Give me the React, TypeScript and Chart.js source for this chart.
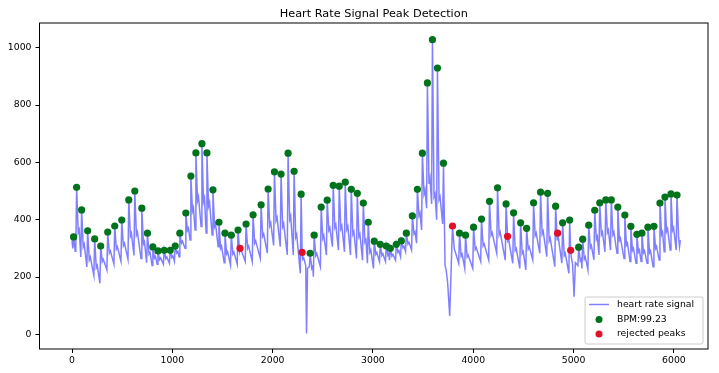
import React, { useEffect, useRef } from "react";
import { Chart, registerables } from "chart.js";

Chart.register(...registerables);

const titleText = "Heart Rate Signal Peak Detection";
const seriesLabels = ["heart rate signal", "BPM:99.23", "rejected peaks"];

const xTicks = [0, 1000, 2000, 3000, 4000, 5000, 6000];
const yTicks = [0, 200, 400, 600, 800, 1000];

// accepted peaks (green)
const peakX = [
  16, 46, 96, 156, 226, 286, 356, 426, 496, 566,
  626, 696, 752, 806, 857, 919, 979, 1029, 1075, 1135,
  1185, 1235, 1295, 1345, 1405, 1465, 1525, 1588, 1655, 1735,
  1805, 1885, 1955, 2018, 2084, 2154, 2214, 2284, 2374, 2414,
  2484, 2544, 2604, 2664, 2724, 2784, 2844, 2904, 2953, 3013,
  3073, 3133, 3173, 3233, 3283, 3333, 3393, 3443, 3493, 3543,
  3593, 3643, 3703, 3863, 3923, 4003, 4082, 4162, 4242, 4327,
  4402, 4472, 4532, 4601, 4671, 4741, 4821, 4891, 4961, 5051,
  5091, 5151, 5211, 5261, 5321, 5376, 5441, 5511, 5571, 5631,
  5681, 5741, 5801, 5861, 5911, 5971, 6031,
];
const peakY = [
  340, 513, 434, 361, 333, 308, 357, 378, 399, 469,
  500, 440, 353, 305, 291, 293, 293, 308, 353, 423,
  552, 633, 665, 633, 504, 391, 353, 346, 364, 385,
  417, 452, 507, 567, 559, 632, 569, 489, 283, 346,
  444, 468, 520, 517, 531, 506, 492, 458, 391, 325,
  314, 308, 300, 314, 326, 353, 413, 506, 632, 877,
  1028, 929, 597, 353, 346, 374, 402, 464, 511, 455,
  424, 389, 370, 459, 496, 492, 447, 389, 399, 304,
  332, 381, 433, 459, 469, 469, 444, 416, 377, 349,
  353, 374, 377, 458, 479, 490, 486,
];
// trough just before each upstroke
const footY = [
  300, 300, 270, 235, 205, 178, 225, 245, 255, 262,
  275, 265, 250, 240, 245, 245, 248, 255, 271, 300,
  329, 364, 376, 354, 347, 306, 250, 242, 245, 255,
  254, 265, 283, 310, 306, 277, 277, 213, 236, 201,
  236, 277, 306, 294, 288, 277, 265, 259, 248, 230,
  254, 254, 259, 259, 271, 289, 294, 318, 364, 440,
  455, 400, 385, 248, 230, 230, 254, 259, 283, 259,
  248, 230, 225, 260, 283, 271, 236, 248, 213, 240,
  230, 225, 260, 277, 288, 294, 283, 265, 254, 248,
  254, 248, 236, 259, 288, 294, 294,
];
// notch after each peak
const notchY = [
  290, 355, 305, 260, 232, 254, 284, 298, 310, 343,
  347, 316, 280, 266, 261, 264, 268, 284, 318, 362,
  430, 466, 463, 447, 375, 300, 281, 280, 292, 300,
  318, 342, 379, 397, 376, 401, 338, 262, 230, 274,
  335, 363, 373, 368, 366, 349, 341, 322, 286, 279,
  275, 276, 273, 286, 302, 315, 351, 414, 490, 525,
  480, 470, 240, 273, 270, 296, 309, 346, 347, 325,
  293, 282, 298, 345, 350, 326, 330, 275, 270, 257,
  262, 302, 332, 348, 355, 348, 328, 311, 293, 287,
  285, 284, 300, 348, 359, 363, 340,
];
// secondary (dicrotic) wave after each notch
const bumpY = [
  null, 365, 315, 270, 240, 262, 292, 306, 318, 353,
  357, 324, 286, 272, 267, 270, 274, 290, 325, 370,
  442, 480, 476, 460, 385, 308, 288, 287, 298, 308,
  326, 350, 389, 408, 386, 413, 348, 266, 238, 282,
  345, 372, 383, 378, 376, 358, 350, 330, 294, 285,
  281, 282, 279, 292, 308, 321, 358, 424, 505, 545,
  490, 480, null, 280, 277, 303, 316, 355, 357, 330,
  300, 289, 305, 354, 360, 336, 340, 283, null, 264,
  270, 310, 341, 357, 364, 357, 336, 318, 300, 294,
  292, 291, 307, 357, 368, 372, null,
];

// rejected peaks (red)
const rejectedX = [1675, 2294, 3793, 4342, 4841, 4971];
const rejectedY = [300, 286, 378, 342, 353, 293];

// irregular signal points (start, artefact dips, end)
const extraX = [0, 2330, 2338, 2348, 3730, 3745, 3765, 3810, 4990, 5005, 5018, 6056, 6064];
const extraY = [328, 240, 3, 230, 225, 179, 64, 300, 245, 131, 250, 306, 329];

const LINE_COLOR = "rgba(0,0,255,0.5)";
const GREEN = "#00731c";
const RED = "#e0102a";
const FONT = '"DejaVu Sans", sans-serif';

function buildSignal() {
  const pts: { x: number; y: number }[] = [];
  peakX.forEach((x, i) => {
    pts.push({ x: x - 8, y: footY[i] });
    pts.push({ x, y: peakY[i] });
    pts.push({ x: x + 16, y: notchY[i] });
    const b = bumpY[i];
    if (b !== null) pts.push({ x: x + 26, y: b as number });
  });
  rejectedX.forEach((x, i) => pts.push({ x, y: rejectedY[i] }));
  extraX.forEach((x, i) => pts.push({ x, y: extraY[i] }));
  pts.sort((a, b) => a.x - b.x);
  return pts;
}

const decorPlugin = {
  id: "decor",
  afterDraw(chart: any) {
    const { ctx, chartArea: a } = chart;
    ctx.save();
    // frame
    ctx.strokeStyle = "#000";
    ctx.lineWidth = 1;
    ctx.strokeRect(a.left, a.top, a.right - a.left, a.bottom - a.top);
    // title
    ctx.fillStyle = "#000";
    ctx.font = `11.3px ${FONT}`;
    ctx.textAlign = "center";
    ctx.textBaseline = "alphabetic";
    ctx.fillText(titleText, (a.left + a.right) / 2, 17);
    // legend
    const bx = a.right - 123;
    const by = a.bottom - 52;
    const bw = 118;
    const bh = 47;
    ctx.beginPath();
    ctx.roundRect(bx, by, bw, bh, 2);
    ctx.fillStyle = "rgba(255,255,255,0.8)";
    ctx.fill();
    ctx.strokeStyle = "#cccccc";
    ctx.lineWidth = 1;
    ctx.stroke();
    const rows = [by + 7.5, by + 22.5, by + 37];
    ctx.strokeStyle = LINE_COLOR;
    ctx.lineWidth = 1.5;
    ctx.beginPath();
    ctx.moveTo(bx + 4, rows[0]);
    ctx.lineTo(bx + 24, rows[0]);
    ctx.stroke();
    ctx.fillStyle = GREEN;
    ctx.beginPath();
    ctx.arc(bx + 14, rows[1], 3.5, 0, Math.PI * 2);
    ctx.fill();
    ctx.fillStyle = RED;
    ctx.beginPath();
    ctx.arc(bx + 14, rows[2], 3.5, 0, Math.PI * 2);
    ctx.fill();
    ctx.fillStyle = "#000";
    ctx.font = `9.3px ${FONT}`;
    ctx.textAlign = "left";
    ctx.textBaseline = "middle";
    seriesLabels.forEach((t, i) => ctx.fillText(t, bx + 32, rows[i]));
    ctx.restore();
  },
};

export default function App() {
  const ref = useRef<HTMLCanvasElement | null>(null);
  useEffect(() => {
    if (!ref.current) return;
    const signal = buildSignal();
    const chart = new Chart(ref.current, {
      type: "scatter",
      data: {
        datasets: [
          {
            label: seriesLabels[0],
            data: signal,
            showLine: true,
            borderColor: LINE_COLOR,
            borderWidth: 1.5,
            pointRadius: 0,
            fill: false,
            tension: 0,
            order: 3,
          } as any,
          {
            label: seriesLabels[1],
            data: peakX.map((x, i) => ({ x, y: peakY[i] })),
            backgroundColor: GREEN,
            borderColor: GREEN,
            borderWidth: 0,
            pointRadius: 3.6,
            order: 2,
          },
          {
            label: seriesLabels[2],
            data: rejectedX.map((x, i) => ({ x, y: rejectedY[i] })),
            backgroundColor: RED,
            borderColor: RED,
            borderWidth: 0,
            pointRadius: 3.6,
            order: 1,
          },
        ],
      },
      options: {
        animation: false,
        responsive: false,
        devicePixelRatio: 1,
        events: [],
        layout: { padding: { top: 23, right: 11, left: 0, bottom: 0 } },
        plugins: {
          legend: { display: false },
          title: { display: false },
          tooltip: { enabled: false },
        },
        scales: {
          x: {
            type: "linear",
            min: -324,
            max: 6340,
            afterBuildTicks: (s: any) => {
              s.ticks = xTicks.map((v) => ({ value: v }));
            },
            afterFit: (s: any) => {
              s.height = 24;
            },
            border: { display: false },
            grid: {
              drawOnChartArea: false,
              drawTicks: true,
              tickLength: 4,
              color: "#000",
              lineWidth: 1,
            },
            ticks: {
              padding: 2,
              color: "#000",
              maxRotation: 0,
              autoSkip: false,
              font: { family: FONT, size: 9.3 },
              callback: (v: any) => String(v),
            },
          },
          y: {
            type: "linear",
            min: -51,
            max: 1086,
            afterBuildTicks: (s: any) => {
              s.ticks = yTicks.map((v) => ({ value: v }));
            },
            afterFit: (s: any) => {
              s.width = 39.5;
            },
            border: { display: false },
            grid: {
              drawOnChartArea: false,
              drawTicks: true,
              tickLength: 4,
              color: "#000",
              lineWidth: 1,
            },
            ticks: {
              padding: 4,
              color: "#000",
              autoSkip: false,
              font: { family: FONT, size: 9.3 },
              callback: (v: any) => String(v),
            },
          },
        },
      },
      plugins: [decorPlugin],
    });
    return () => chart.destroy();
  }, []);
  return (
    <div
      style={{
        position: "fixed",
        left: 0,
        top: 0,
        width: 719,
        height: 373,
        background: "#fff",
      }}
    >
      <canvas ref={ref} width={719} height={373} style={{ width: 719, height: 373 }} />
    </div>
  );
}
